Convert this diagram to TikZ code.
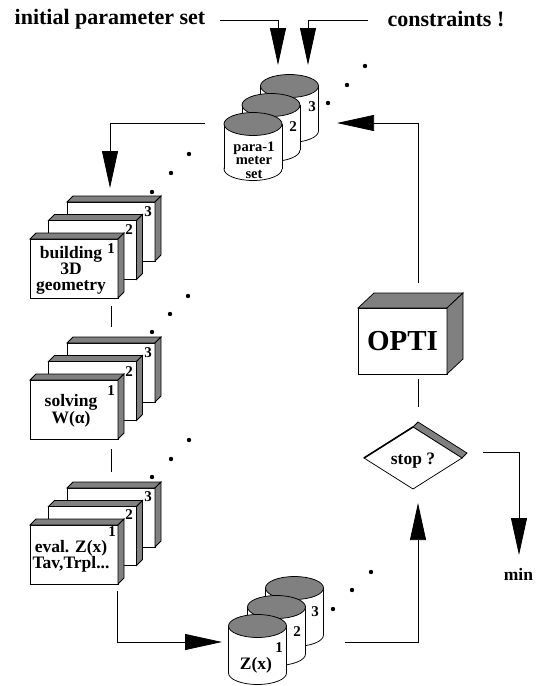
\documentclass[tikz,border=0pt]{standalone}
\usepackage{fontspec}
\setmainfont{Liberation Serif}
\usetikzlibrary{arrows.meta}
\definecolor{cgray}{RGB}{128,128,128}
\newcommand\faces[5]{%
  \draw[fill=cgray] (#1,#2) -- ({#1+#5},{#2-#5}) -- ({#3+#5},{#2-#5}) -- (#3,#2) -- cycle;
  \draw[fill=cgray] (#3,#2) -- ({#3+#5},{#2-#5}) -- ({#3+#5},{#4-#5}) -- (#3,#4) -- cycle;}
\newcommand\plainbox[4]{\draw[fill=white] (#1,#2) rectangle (#3,#4); \faces{#1}{#2}{#3}{#4}{6}}
\newcommand\mycyl[3]{%
  \draw[fill=white] ({#1},{#2+#3}) ellipse [x radius=29, y radius=11.5];
  \fill[white] ({#1-29},{#2}) rectangle ({#1+29},{#2+#3});
  \draw ({#1-29},{#2}) -- ({#1-29},{#2+#3}) ({#1+29},{#2}) -- ({#1+29},{#2+#3});
  \draw[fill=cgray] ({#1},{#2}) ellipse [x radius=29, y radius=11.5];}
\newcommand\stackgroup[3]{%
  \plainbox{67}{#2-37}{155}{#2+22}
  \plainbox{48.5}{#2-18.5}{136.5}{#2+40.5}
  \node[frontbox, anchor=north west] (#1) at (30,#2) {};
  \faces{30}{#2}{118}{#2+59}{6}
  \node[txt] (#1t) at (71,{#2+31}) {#3};}
\begin{document}
\begin{tikzpicture}[x=1pt,y=-1pt,line width=0.75pt,
  big/.style={font=\bfseries\fontsize{22}{24}\selectfont, inner sep=0pt},
  txt/.style={font=\bfseries\fontsize{17.5}{16}\selectfont, inner sep=0pt, align=center},
  num/.style={font=\bfseries\fontsize{15}{15}\selectfont, inner sep=0pt},
  ctxt/.style={font=\bfseries\fontsize{14.5}{13.5}\selectfont, inner sep=0pt, align=center},
  frontbox/.style={draw, fill=white, minimum width=88pt, minimum height=59pt, inner sep=0pt},
  dot/.style={circle, fill=black, inner sep=0pt, minimum size=4.4pt},
  arr/.style={-{Triangle[length=37pt,width=16pt]}}]
\useasboundingbox (0,0) rectangle (542,686);

% top texts
\node[big] (ips) at (110,19) {initial parameter set};
\node[big] (con) at (446,19) {constraints !};
\coordinate (ipsS) at (220,20);
\coordinate (ipsT) at (278,65);
\coordinate (conS) at (368,20);
\coordinate (conT) at (308,65);
\draw[arr] (ipsS) -| (ipsT);
\draw[arr] (conS) -| (conT);

% parameter set cylinders
\mycyl{289.5}{86}{45}
\mycyl{271}{105}{45}
\mycyl{253}{124}{45}
\node[num] (p3) at (312,107) {3};
\node[num] (p2) at (293,127) {2};
\node[ctxt] (pset) at (254,160) {para-1\\meter\\set};
\foreach \p in {(365,66),(347,85),(328,103),(189,154),(171,173),(152,192)}
  \node[dot] at \p {};

% stacks
\stackgroup{g1}{239}{building\\3D\\geometry}
\node[num] at (148,212) {3};
\node[num] at (129,230) {2};
\node[num] at (111,249) {1};
\stackgroup{g2}{380}{solving\\W(α)}
\node[num] at (148,353) {3};
\node[num] at (129,372) {2};
\node[num] at (111,391) {1};
\stackgroup{g3}{525}{eval. Z(x)\\Tav,Trpl...}
\node[num] at (148,497) {3};
\node[num] at (129,515) {2};
\node[num] at (112,532) {1};
\foreach \p in {(188,296),(170,314),(152,332),(189,440),(171,459),(152,477)}
  \node[dot] at \p {};

% connectors on the left
\coordinate (cylL) at (205,123);
\coordinate (g1T) at (110,188);
\draw[arr] (cylL) -| (g1T);
\coordinate (g1B) at (111,306);
\coordinate (g2T) at (111,327);
\draw (g1B) -- (g2T);
\coordinate (g2B) at (111,449);
\coordinate (g3T) at (111,472);
\draw (g2B) -- (g3T);
\coordinate (g3B) at (117,591);
\coordinate (zL) at (222,642);
\draw[arr] (g3B) |- (zL);

% Z(x) cylinders
\mycyl{294.5}{588}{47}
\mycyl{276.5}{607}{47}
\mycyl{257.5}{626}{47}
\node[num] at (315,612) {3};
\node[num] at (297,632) {2};
\node[num] at (279,648) {1};
\node[txt] (zx) at (256,665) {Z(x)};
\foreach \p in {(371,572),(352,590),(333,609)}
  \node[dot] at \p {};

% OPTI
\node[draw, fill=white, minimum width=89pt, minimum height=66pt, inner sep=0pt,
  font=\bfseries\fontsize{29}{30}\selectfont] (opti) at (402.5,341) {OPTI};
\draw[fill=cgray] (358,308) -- (374,293) -- (463,293) -- (447,308) -- cycle;
\draw[fill=cgray] (447,308) -- (463,293) -- (463,359) -- (447,374) -- cycle;

% stop diamond
\draw[fill=cgray] (413,427) -- (418,422) -- (467,453) -- (462,458) -- cycle;
\draw[fill=white] (413,427) -- (462,458) -- (413,489) -- (364,458) -- cycle;
\draw[line width=1.6pt] (364,458) -- (413,427);
\node[txt] (stop) at (413,461) {stop ?};
\node[txt] (min) at (518.5,574) {min};

% right connectors
\coordinate (zR) at (345,642);
\coordinate (stopB) at (418,503);
\draw[arr] (zR) -| (stopB);
\coordinate (optiB) at (418,379);
\coordinate (stopT) at (418,407);
\draw (optiB) -- (stopT);
\coordinate (stopR) at (483,452);
\coordinate (minT) at (519,555);
\draw[arr] (stopR) -| (minT);
\coordinate (optiT) at (418,283);
\coordinate (cylR) at (337,123);
\draw[arr] (optiT) |- (cylR);
\end{tikzpicture}
\end{document}
